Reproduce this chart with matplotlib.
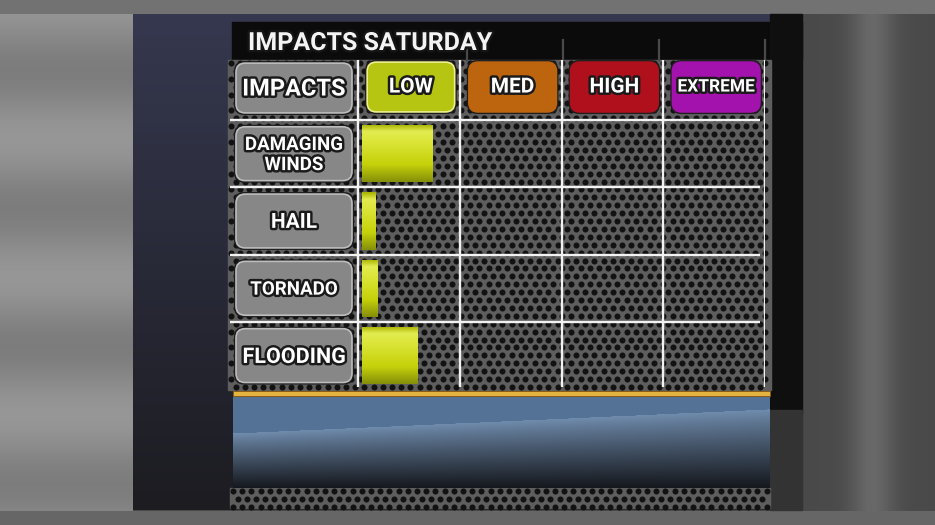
import numpy as np
import matplotlib
matplotlib.use("Agg")
import matplotlib.pyplot as plt
from matplotlib.patches import Rectangle, FancyBboxPatch
from matplotlib.colors import LinearSegmentedColormap
import matplotlib.patheffects as pe

# ---------------- data ----------------
title = "IMPACTS SATURDAY"
corner_label = "IMPACTS"
impact_levels = ["LOW", "MED", "HIGH", "EXTREME"]
hazards = ["DAMAGING\nWINDS", "HAIL", "TORNADO", "FLOODING"]
impact_values = [0.69, 0.13, 0.15, 0.55]   # in units of impact-level columns
bar_start = 0.04

level_colors = ["#b5c512", "#bd640f", "#b0101c", "#a412ad"]
level_sizes = [15, 15, 15, 12.5]
hazard_sizes = [13.5, 15, 13.5, 15.5]

plt.rcParams['font.family'] = ['Roboto', 'DejaVu Sans']

W, H = 935, 525
fig = plt.figure(figsize=(W / 100, H / 100), dpi=100)

# ---------------- decorative background (pixel coords) ----------------
bg = fig.add_axes([0, 0, 1, 1])
bg.set_xlim(0, W)
bg.set_ylim(H, 0)
bg.axis('off')

yy, xx = np.mgrid[0:H, 0:W].astype(float)
val = np.where(xx < 133, 0.54 + 0.05 * np.cos(yy / 22.0), 0.29)
val = val + np.where(xx > 800, 0.12 * np.exp(-((xx - 872) / 22.0) ** 2), 0)
val = np.where(yy < 14, 0.45, val)
val = np.where(yy > 510, 0.40, val)
out_img = np.dstack([val, val, val])
bg.imshow(out_img, extent=(0, W, H, 0), aspect='auto', zorder=0, interpolation='bilinear')

# main panel gradient (stormy sky)
ph = 496
t = np.linspace(0, 1, ph)[:, None]
top_c = np.array([0.21, 0.22, 0.31])
bot_c = np.array([0.11, 0.11, 0.13])
panel = top_c[None, None, :] * (1 - t[..., None]) + bot_c[None, None, :] * t[..., None]
panel = np.repeat(panel, 10, axis=1)
bg.imshow(panel, extent=(133, 802, 510, 14), aspect='auto', zorder=1)

# title bar & right dark strip
bg.add_patch(Rectangle((232, 22), 570, 38, color="#0b0b0b", zorder=2))
bg.add_patch(Rectangle((770, 14), 32, 400, color="#0f0f0f", zorder=2))
bg.add_patch(Rectangle((770, 410), 32, 100, color="#333333", zorder=2))

# perforated metal mesh
def mesh(x0, y0, x1, y1):
    bg.add_patch(Rectangle((x0, y0), x1 - x0, y1 - y0, color="#5e5e5e", zorder=2))
    ys = np.arange(y0 + 3, y1, 7.9)
    for k, yv in enumerate(ys):
        xs = np.arange(x0 + 3 + (4.6 if k % 2 else 0), x1 - 2, 9.2)
        bg.scatter(xs, np.full_like(xs, yv), s=19, color="#121212",
                   linewidths=0, zorder=3)

mesh(228, 60, 771, 390)
mesh(230, 488, 770, 508)

# gold line and blue lower panel
bg.add_patch(Rectangle((233, 391), 537, 5, facecolor="#e5b440",
                       edgecolor="#8a5a10", linewidth=0.6, zorder=4))
bh = 91
nx = 200
rows_i = np.arange(bh)[:, None].astype(float)
cols_f = np.linspace(0, 1, nx)[None, :]
edge = 36 - 24 * cols_f
upper = np.array([0.33, 0.45, 0.59])
light = np.array([0.44, 0.55, 0.68])
dark = np.array([0.08, 0.09, 0.11])
frac = np.clip((rows_i - edge) / (bh - edge), 0, 1) ** 0.9
below = light[None, None, :] * (1 - frac[..., None]) + dark[None, None, :] * frac[..., None]
above_mask = (rows_i < edge)[..., None]
blue = np.where(above_mask, upper[None, None, :] * np.ones((bh, nx, 1)), below)
bg.imshow(blue, extent=(233, 770, 488, 397), aspect='auto', zorder=4,
          interpolation='bilinear')

# short gray ticks above the grid in the title area
for xv in (467, 563, 659, 765):
    bg.plot([xv, xv], [40, 60], color="#4a4a4a", lw=1.6, zorder=3)

shadow = [pe.withStroke(linewidth=3.5, foreground="#151515")]
bg.text(248, 43, title, color="#f4f4f4", fontsize=18, fontweight='bold',
        ha='left', va='center', zorder=6, path_effects=shadow)

# ---------------- chart axes (data coords) ----------------
px_per_x = 101.75
px_per_y = 67.25
ax_x0, ax_x1 = 230, 765
ax_y0, ax_y1 = 52.75, 389.25
ax = fig.add_axes([ax_x0 / W, 1 - ax_y1 / H, (ax_x1 - ax_x0) / W, (ax_y1 - ax_y0) / H])
ax.patch.set_alpha(0)
for s in ax.spines.values():
    s.set_visible(False)
ax.set_xticks([])
ax.set_yticks([])
xlim = (-(358 - ax_x0) / px_per_x, len(impact_levels))
ylim = (len(hazards) - 0.5, -1.5)

def yd(p):
    return -1.5 + (p - ax_y0) / px_per_y

def xd(p):
    return (p - 358) / px_per_x

# grid lines
ax.vlines(range(len(impact_levels) + 1), yd(60), yd(387), color="#f2f2f2", lw=1.7, zorder=2)
ax.hlines(np.arange(len(hazards)) - 0.5, xd(230), xd(760), color="#f2f2f2", lw=1.7, zorder=2)

# bars
rows = np.arange(len(hazards))
bars = ax.barh(rows, impact_values, left=bar_start, height=0.85,
               color="#c4d00a", edgecolor="none", zorder=3)
cyl = LinearSegmentedColormap.from_list(
    "cyl", [(0, "#a8b200"), (0.12, "#e2ec50"), (0.3, "#dbe538"),
            (0.7, "#c5d10a"), (1, "#86900a")])
grad = np.linspace(0, 1, 64)[:, None]
for b in bars:
    bb = b.get_bbox()
    im = ax.imshow(grad, extent=(bb.x0, bb.x1, bb.y1, bb.y0), cmap=cyl,
                   aspect='auto', zorder=4)
    im.set_clip_path(b)

def box(xc, yc, w, h, face, edge, zorder=5):
    ax.add_patch(FancyBboxPatch((xc - w / 2 - 0.02, yc - h / 2 - 0.03), w + 0.04, h + 0.06,
                                boxstyle="round,pad=0,rounding_size=0.1",
                                mutation_aspect=px_per_x / px_per_y,
                                facecolor="#1c1c1c", edgecolor="none", zorder=zorder))
    ax.add_patch(FancyBboxPatch((xc - w / 2, yc - h / 2), w, h,
                                boxstyle="round,pad=0,rounding_size=0.09",
                                mutation_aspect=px_per_x / px_per_y,
                                facecolor=face, edgecolor=edge, lw=1.2, zorder=zorder + 0.1))

txt_fx = [pe.withStroke(linewidth=3.5, foreground="#1a1a1a")]

# corner "IMPACTS" box
lab_xc = (xd(236) + xd(352)) / 2
lab_w = xd(352) - xd(236)
box(lab_xc, yd(88), lab_w, 0.74, "#888888", "#bdbdbd")
ax.text(lab_xc, yd(89), corner_label, ha='center', va='center', fontsize=17,
        fontweight='bold', color='white', zorder=7, path_effects=txt_fx)

# level headers
for i, (lvl, col, fs) in enumerate(zip(impact_levels, level_colors, level_sizes)):
    xc = i + 0.52
    box(xc, yd(87), 0.86, 0.74, col, "#eef090" if i == 0 else col)
    ax.text(xc, yd(87), lvl, ha='center', va='center', fontsize=fs,
            fontweight='bold', color='white', zorder=7, path_effects=txt_fx)

# hazard row labels
for i, (hz, fs) in enumerate(zip(hazards, hazard_sizes)):
    box(lab_xc, i, lab_w, 0.8, "#878787", "#bdbdbd")
    ax.text(lab_xc, i + 0.02, hz, ha='center', va='center', fontsize=fs,
            fontweight='bold', color='white', zorder=7, linespacing=1.15,
            path_effects=txt_fx)

ax.set_xlim(*xlim)
ax.set_ylim(*ylim)

fig.savefig("out.png", dpi=100)
